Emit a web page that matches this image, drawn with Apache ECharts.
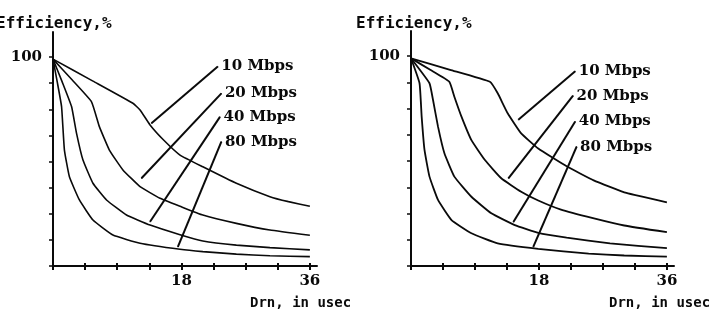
<!DOCTYPE html>
<html>
<head>
<meta charset="utf-8">
<script src="https://cdn.jsdelivr.net/npm/echarts@6/dist/echarts.min.js"></script>
<style>html,body{margin:0;padding:0;background:#fff}#c{width:711px;height:311px}</style>
</head>
<body>
<div id="c"></div>
<script>
// ---- data (x = Drn in usec, y = Efficiency %) ----
const seriesNames = ['10 Mbps', '20 Mbps', '40 Mbps', '80 Mbps'];
const xTicks = [0, 4.5, 9, 13.5, 18, 22.5, 27, 31.5, 36];
const xTickLabels = [18, 36];
const yTicks = [0, 12.5, 25, 37.5, 50, 62.5, 75, 87.5, 100];
const yTickLabels = [100];

// left panel curves
const left10 = [[0,99],[5.6,88.5],[11.2,77.9],[12.2,74.7],[13.6,67.5],[15.5,60.3],[17.8,53.1],[21.0,47.5],[25.7,39.6],[30.4,33.2],[33,30.8],[36,28.6]];
const left20 = [[0,99],[2.7,89],[5.4,78.6],[6.5,66.7],[7.9,55.5],[9.8,46],[12.2,38],[15,32.4],[17.8,28.6],[21,24.4],[25.7,20.4],[30.4,17.2],[36,14.7]];
const left40 = [[0,99],[1.3,88],[2.6,76.3],[3.3,63.5],[4.2,50.7],[5.6,39.6],[7.5,31.6],[10.3,24.4],[13.6,19.6],[17.8,15],[21,12],[25.7,10],[30.4,8.8],[36,7.7]];
const left80 = [[0,99],[0.6,88],[1.2,76.3],[1.6,55.5],[2.3,42.7],[3.7,31.6],[5.6,22],[8.4,14.8],[12.2,10.9],[17.8,8],[21,6.9],[25.7,5.7],[30.4,4.9],[36,4.5]];

// right panel curves
const right10 = [[0,99],[5.5,93.5],[11.1,87.8],[12.2,82.3],[13.6,72.8],[15.5,63.2],[17.9,56],[21.9,47.5],[25.7,40.8],[30.3,34.8],[36,30.3]];
const right20 = [[0,99],[2.7,93.5],[5.4,87.8],[6.1,80.7],[7.1,71.2],[8.5,60],[10.4,50.5],[12.7,41.8],[15.5,35.4],[17.9,31.2],[21,27],[25.6,22.8],[30,19.3],[36,16.1]];
const right40 = [[0,99],[2.6,87.1],[3.1,79.1],[3.8,66.4],[4.7,53.7],[6.1,42.6],[8.5,33],[11.3,25.1],[14.6,19.5],[17.9,15.8],[21.9,13.5],[28,10.8],[36,8.5]];
const right80 = [[0,99],[1.2,87.1],[1.5,71.2],[1.9,55.3],[2.6,42.6],[3.8,31.5],[5.7,21.9],[8.5,15.6],[12.2,10.8],[17.9,8.2],[25,5.9],[30,5],[36,4.5]];

// leader lines: [label end, curve end]
const leftLeaders = [[[23.1,95.5],[13.8,68.3]], [[23.6,82.6],[12.4,42]], [[23.4,71.4],[13.6,21.2]], [[23.6,59.5],[17.5,9.2]]];
const rightLeaders = [[[23.1,92.8],[15.1,69.7]], [[22.8,81.2],[13.7,41.8]], [[23.1,68.9],[14.4,21]], [[23.3,56.9],[17.2,9.1]]];

const yTitle = 'Efficiency,%';
const xTitle = 'Drn, in usec';

// ---- chart ----
const ink = '#0a0a0a';
const serif = '"DejaVu Serif", serif';
const mono = '"DejaVu Sans Mono", monospace';

function xAxisFor(gi) {
  return {
    type: 'value', gridIndex: gi, min: 0, max: 37, position: 'bottom',
    axisLine: { show: true, lineStyle: { color: ink, width: 2 } },
    axisTick: { show: true, customValues: xTicks, length: 4, inside: false, lineStyle: { color: ink, width: 2 } },
    axisLabel: { show: true, customValues: xTickLabels, margin: 8, color: ink, fontFamily: serif, fontWeight: 'bold', fontSize: 15 },
    splitLine: { show: false }
  };
}
function xInnerTicksFor(gi) {
  return {
    type: 'value', gridIndex: gi, min: 0, max: 37, position: 'bottom',
    axisLine: { show: false },
    axisTick: { show: true, customValues: xTicks, length: 3, inside: true, lineStyle: { color: ink, width: 2 } },
    axisLabel: { show: false },
    splitLine: { show: false }
  };
}
function yAxisFor(gi) {
  return {
    type: 'value', gridIndex: gi, min: 0, max: 112,
    axisLine: { show: true, lineStyle: { color: ink, width: 2 } },
    axisTick: { show: true, customValues: yTicks, length: 4, inside: false, lineStyle: { color: ink, width: 1.5 } },
    axisLabel: { show: true, customValues: yTickLabels, margin: 11, color: ink, fontFamily: serif, fontWeight: 'bold', fontSize: 15 },
    splitLine: { show: false }
  };
}
function curve(data, gi, w) {
  return {
    type: 'line', xAxisIndex: gi, yAxisIndex: gi, data: data,
    showSymbol: false, symbol: 'none', smooth: 0.12,
    lineStyle: { color: ink, width: w }, silent: true, z: 3
  };
}
function leader(pts, name, gi) {
  return {
    type: 'line', xAxisIndex: gi, yAxisIndex: gi, symbol: 'circle', symbolSize: 1, showSymbol: true,
    itemStyle: { color: ink },
    lineStyle: { color: ink, width: 2 }, silent: true, z: 4,
    data: [
      { value: pts[0], label: { show: true, formatter: name, position: 'right', distance: 3,
        color: ink, fontFamily: serif, fontWeight: 'bold', fontSize: 15 } },
      { value: pts[1], label: { show: false } }
    ]
  };
}

const leftCurves = [left10, left20, left40, left80];
const rightCurves = [right10, right20, right40, right80];
const series = [];
leftCurves.forEach(d => series.push(curve(d, 0, 1.6)));
rightCurves.forEach(d => series.push(curve(d, 1, 1.8)));
leftLeaders.forEach((p, i) => series.push(leader(p, seriesNames[i], 0)));
rightLeaders.forEach((p, i) => series.push(leader(p, seriesNames[i], 1)));

const titleStyle = { fill: ink, font: 'bold 16px ' + mono, textVerticalAlign: 'middle' };
const xTitleStyle = { fill: ink, font: 'bold 14px ' + mono, textVerticalAlign: 'middle' };

const chart = echarts.init(document.getElementById('c'), null, { renderer: 'canvas' });
chart.setOption({
  animation: false,
  backgroundColor: '#fff',
  grid: [
    { left: 53, top: 32, width: 264, height: 234 },
    { left: 411, top: 31, width: 263, height: 235 }
  ],
  xAxis: [xAxisFor(0), xAxisFor(1), xInnerTicksFor(0), xInnerTicksFor(1)],
  yAxis: [yAxisFor(0), yAxisFor(1)],
  series: series,
  graphic: [
    { type: 'text', left: -4, top: 16, style: Object.assign({ text: yTitle }, titleStyle) },
    { type: 'text', left: 356, top: 16, style: Object.assign({ text: yTitle }, titleStyle) },
    { type: 'text', left: 250, top: 296, style: Object.assign({ text: xTitle }, xTitleStyle) },
    { type: 'text', left: 609, top: 296, style: Object.assign({ text: xTitle }, xTitleStyle) }
  ]
});
</script>
</body>
</html>
